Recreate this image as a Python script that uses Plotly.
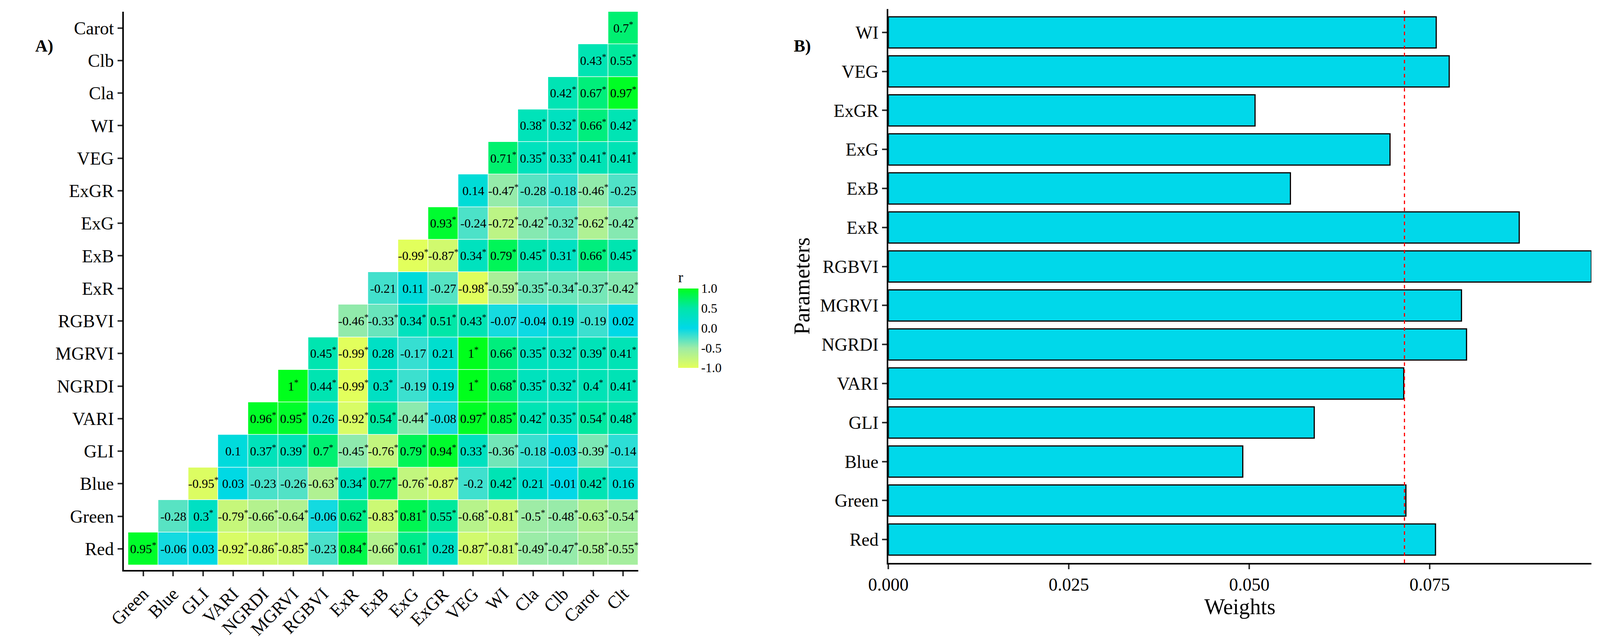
import plotly.graph_objects as go

cols = ["Green","Blue","GLI","VARI","NGRDI","MGRVI","RGBVI","ExR","ExB","ExG","ExGR","VEG","WI","Cla","Clb","Carot","Clt"]
rows = ["Red","Green","Blue","GLI","VARI","NGRDI","MGRVI","RGBVI","ExR","ExB","ExG","ExGR","VEG","WI","Cla","Clb","Carot"]

# each row's values start at the column with the same index (lower triangle)
r_Red   = ["0.95*","-0.06","0.03","-0.92*","-0.86*","-0.85*","-0.23","0.84*","-0.66*","0.61*","0.28","-0.87*","-0.81*","-0.49*","-0.47*","-0.58*","-0.55*"]
r_Green = ["-0.28","0.3*","-0.79*","-0.66*","-0.64*","-0.06","0.62*","-0.83*","0.81*","0.55*","-0.68*","-0.81*","-0.5*","-0.48*","-0.63*","-0.54*"]
r_Blue  = ["-0.95*","0.03","-0.23","-0.26","-0.63*","0.34*","0.77*","-0.76*","-0.87*","-0.2","0.42*","0.21","-0.01","0.42*","0.16"]
r_GLI   = ["0.1","0.37*","0.39*","0.7*","-0.45*","-0.76*","0.79*","0.94*","0.33*","-0.36*","-0.18","-0.03","-0.39*","-0.14"]
r_VARI  = ["0.96*","0.95*","0.26","-0.92*","0.54*","-0.44*","-0.08","0.97*","0.85*","0.42*","0.35*","0.54*","0.48*"]
r_NGRDI = ["1*","0.44*","-0.99*","0.3*","-0.19","0.19","1*","0.68*","0.35*","0.32*","0.4*","0.41*"]
r_MGRVI = ["0.45*","-0.99*","0.28","-0.17","0.21","1*","0.66*","0.35*","0.32*","0.39*","0.41*"]
r_RGBVI = ["-0.46*","-0.33*","0.34*","0.51*","0.43*","-0.07","-0.04","0.19","-0.19","0.02"]
r_ExR   = ["-0.21","0.11","-0.27","-0.98*","-0.59*","-0.35*","-0.34*","-0.37*","-0.42*"]
r_ExB   = ["-0.99*","-0.87*","0.34*","0.79*","0.45*","0.31*","0.66*","0.45*"]
r_ExG   = ["0.93*","-0.24","-0.72*","-0.42*","-0.32*","-0.62*","-0.42*"]
r_ExGR  = ["0.14","-0.47*","-0.28","-0.18","-0.46*","-0.25"]
r_VEG   = ["0.71*","0.35*","0.33*","0.41*","0.41*"]
r_WI    = ["0.38*","0.32*","0.66*","0.42*"]
r_Cla   = ["0.42*","0.67*","0.97*"]
r_Clb   = ["0.43*","0.55*"]
r_Carot = ["0.7*"]
row_vals = [r_Red,r_Green,r_Blue,r_GLI,r_VARI,r_NGRDI,r_MGRVI,r_RGBVI,r_ExR,r_ExB,r_ExG,r_ExGR,r_VEG,r_WI,r_Cla,r_Clb,r_Carot]

params  = ["WI","VEG","ExGR","ExG","ExB","ExR","RGBVI","MGRVI","NGRDI","VARI","GLI","Blue","Green","Red"]
weights = [0.0759,0.0777,0.0508,0.0695,0.0557,0.0874,0.0974,0.0794,0.0801,0.0714,0.0590,0.0491,0.0717,0.0758]
threshold = 0.0715

z, txt = [], []
for i, vals in enumerate(row_vals):
    zr = [None]*i + [float(v.rstrip("*")) for v in vals]
    tr = [""]*i + [(v.rstrip("*") + "<sup>*</sup>") if v.endswith("*") else v for v in vals]
    z.append(zr); txt.append(tr)

W, H = 4315, 1632
font = "Liberation Serif"
fig = go.Figure()
cs = [[0, "#e3ff5a"], [0.25, "#9eeca6"], [0.5, "#00d8e8"], [0.75, "#00e6aa"], [1, "#00ff1c"]]
fig.add_trace(go.Heatmap(
    z=z, x=cols, y=rows, text=txt, texttemplate="%{text}",
    textfont=dict(family=font, size=32, color="black"),
    colorscale=cs, zmin=-1, zmax=1, xgap=1.5, ygap=1.5, hoverongaps=False,
    xaxis="x", yaxis="y",
    colorbar=dict(x=1785/W, xanchor="left", y=0.505, yanchor="middle", len=270/H, lenmode="fraction",
                  thickness=52, outlinewidth=0, tickvals=[-1,-0.5,0,0.5,1], ticktext=["-1.0","-0.5","0.0","0.5","1.0"],
                  tickfont=dict(family=font, size=33, color="black"), ticks="",
                  title=dict(text="r", font=dict(family=font, size=38, color="black"), side="top"))))

fig.add_trace(go.Bar(x=weights, y=params, orientation="h", marker=dict(color="#00d8ea", line=dict(color="black", width=3)),
                     width=0.8, xaxis="x2", yaxis="y2", showlegend=False))

ax = dict(showline=True, linecolor="black", linewidth=4, ticks="outside", ticklen=12, tickwidth=4,
          tickcolor="#333", showgrid=False, zeroline=False, tickfont=dict(family=font, size=46, color="black"))
fig.update_layout(
    autosize=True, margin=dict(l=0, r=0, t=0, b=0), plot_bgcolor="white", paper_bgcolor="white",
    showlegend=False, font=dict(family=font, color="black"),
    xaxis=dict(ax, domain=[275/W, 1686/W], range=[-0.65, 16.5], tickangle=-45, anchor="y"),
    yaxis=dict(ax, domain=[1-1450/H, 1-22/H], range=[-0.65, 16.5], anchor="x"),
    xaxis2=dict(ax, domain=[2372/W, 4300/W], range=[0, 0.0974], tickvals=[0, 0.025, 0.05, 0.075],
                ticktext=["0.000","0.025","0.050","0.075"], anchor="y2",
                title=dict(text="Weights", font=dict(family=font, size=56, color="black"), standoff=10)),
    yaxis2=dict(ax, domain=[1-1432/H, 1-15/H], range=[-0.6, 13.6], autorange=False, anchor="x2",
                categoryorder="array", categoryarray=params[::-1],
                title=dict(text="Parameters", font=dict(family=font, size=56, color="black"), standoff=10)),
    shapes=[dict(type="line", xref="x2", yref="y2 domain", x0=threshold, x1=threshold, y0=0, y1=1,
                 line=dict(color="red", width=3, dash="dash"))],
    annotations=[dict(text="<b>A)</b>", x=30/W, y=1-83/H, xref="paper", yref="paper", showarrow=False,
                      font=dict(family=font, size=44, color="black"), xanchor="left"),
                 dict(text="<b>B)</b>", x=2110/W, y=1-83/H, xref="paper", yref="paper", showarrow=False,
                      font=dict(family=font, size=44, color="black"), xanchor="left")])
fig.write_html("out.html", default_width="100%", default_height="100vh")
